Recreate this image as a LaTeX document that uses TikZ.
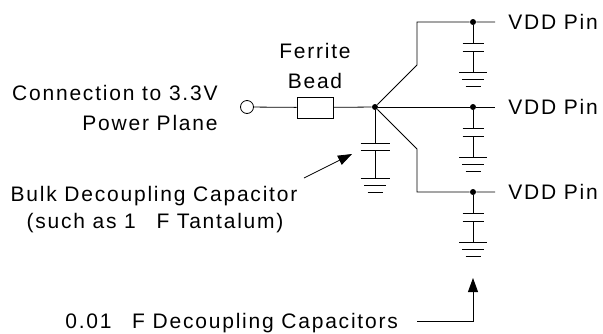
\documentclass[tikz,border=0pt]{standalone}
\usepackage{fontspec}
\setmainfont{Liberation Sans}[LetterSpace=8.5]
\usetikzlibrary{arrows.meta}

\begin{document}
\begin{tikzpicture}[x=1pt,y=-1pt,line width=0.8pt,
  lbl/.style={font=\fontsize{21}{30}\selectfont,inner sep=0pt},
  dot/.style={circle,fill,inner sep=0pt,minimum size=6pt},
  arr/.style={-{Triangle[length=14pt,width=10pt]}}]
\useasboundingbox (0,0) rectangle (603,333);

% input and ferrite bead
\node[circle,draw,fill=white,minimum size=13pt,inner sep=0pt] (in) at (247,107) {};
\node[draw,minimum width=36pt,minimum height=21pt,inner sep=0pt] (bead) at (315,107.5) {};
\node[dot] (j) at (375,107) {};
\draw (in) -- (bead) -- (j);
\node[lbl,anchor=base east] (conn) at (218,100) {Connection to 3.3V};
\node[lbl,anchor=base east] (plane) at (218,130) {Power Plane};
\node[lbl,anchor=base] (fer) at (315,58) {Ferrite};
\node[lbl,anchor=base] (bd) at (315,88) {Bead};

% branches to the pins
\coordinate (ka) at (417,65);
\coordinate (kb) at (417,149);
\node[dot] (p1) at (473,22) {};
\node[dot] (p2) at (473,107) {};
\node[dot] (p3) at (473,192) {};
\coordinate (e1) at (495,22);
\coordinate (e2) at (495,107);
\coordinate (e3) at (495,192);
\draw (j) -- (ka) |- (p1) -- (e1);
\draw (j) -- (p2) -- (e2);
\draw (j) -- (kb) |- (p3) -- (e3);
\node[lbl,anchor=west] (v1) at (508,22) {VDD Pin};
\node[lbl,anchor=west] (v2) at (508,107) {VDD Pin};
\node[lbl,anchor=west] (v3) at (508,192) {VDD Pin};

% 0.01 caps to ground
\foreach \p in {p1,p2,p3}{
  \draw (\p) -- ++(0,21) ++(-10.5,0) -- ++(21,0);
  \draw (\p) ++(-10.5,29) -- ++(21,0) ++(-10.5,0) -- ++(0,21)
        ++(-14,0) -- ++(28,0) ++(-25,7) -- ++(22,0) ++(-18.5,7) -- ++(15,0);
}

% bulk cap
\draw (j) -- ++(0,36) ++(-14.5,0) -- ++(29,0);
\draw (j) ++(-14.5,43) -- ++(29,0) ++(-14.5,0) -- ++(0,28)
      ++(-14.5,0) -- ++(29,0) ++(-25.5,7) -- ++(22,0) ++(-18.5,7) -- ++(15,0);
\node[lbl,anchor=base] (bulk) at (154,201) {Bulk Decoupling Capacitor};
\node[lbl,anchor=base] (tant) at (155,228) {(such as 1 \hspace{13pt}F Tantalum)};
\coordinate (bt) at (304,178);
\coordinate (bh) at (352,154);
\draw[arr] (bt) -- (bh);

% decoupling label
\node[lbl,anchor=base west] (dec) at (65,328) {0.01 \hspace{13pt}F Decoupling Capacitors};
\coordinate (dt) at (417,321);
\coordinate (dh) at (473,278);
\draw[arr] (dt) -| (dh);
\end{tikzpicture}
\end{document}
